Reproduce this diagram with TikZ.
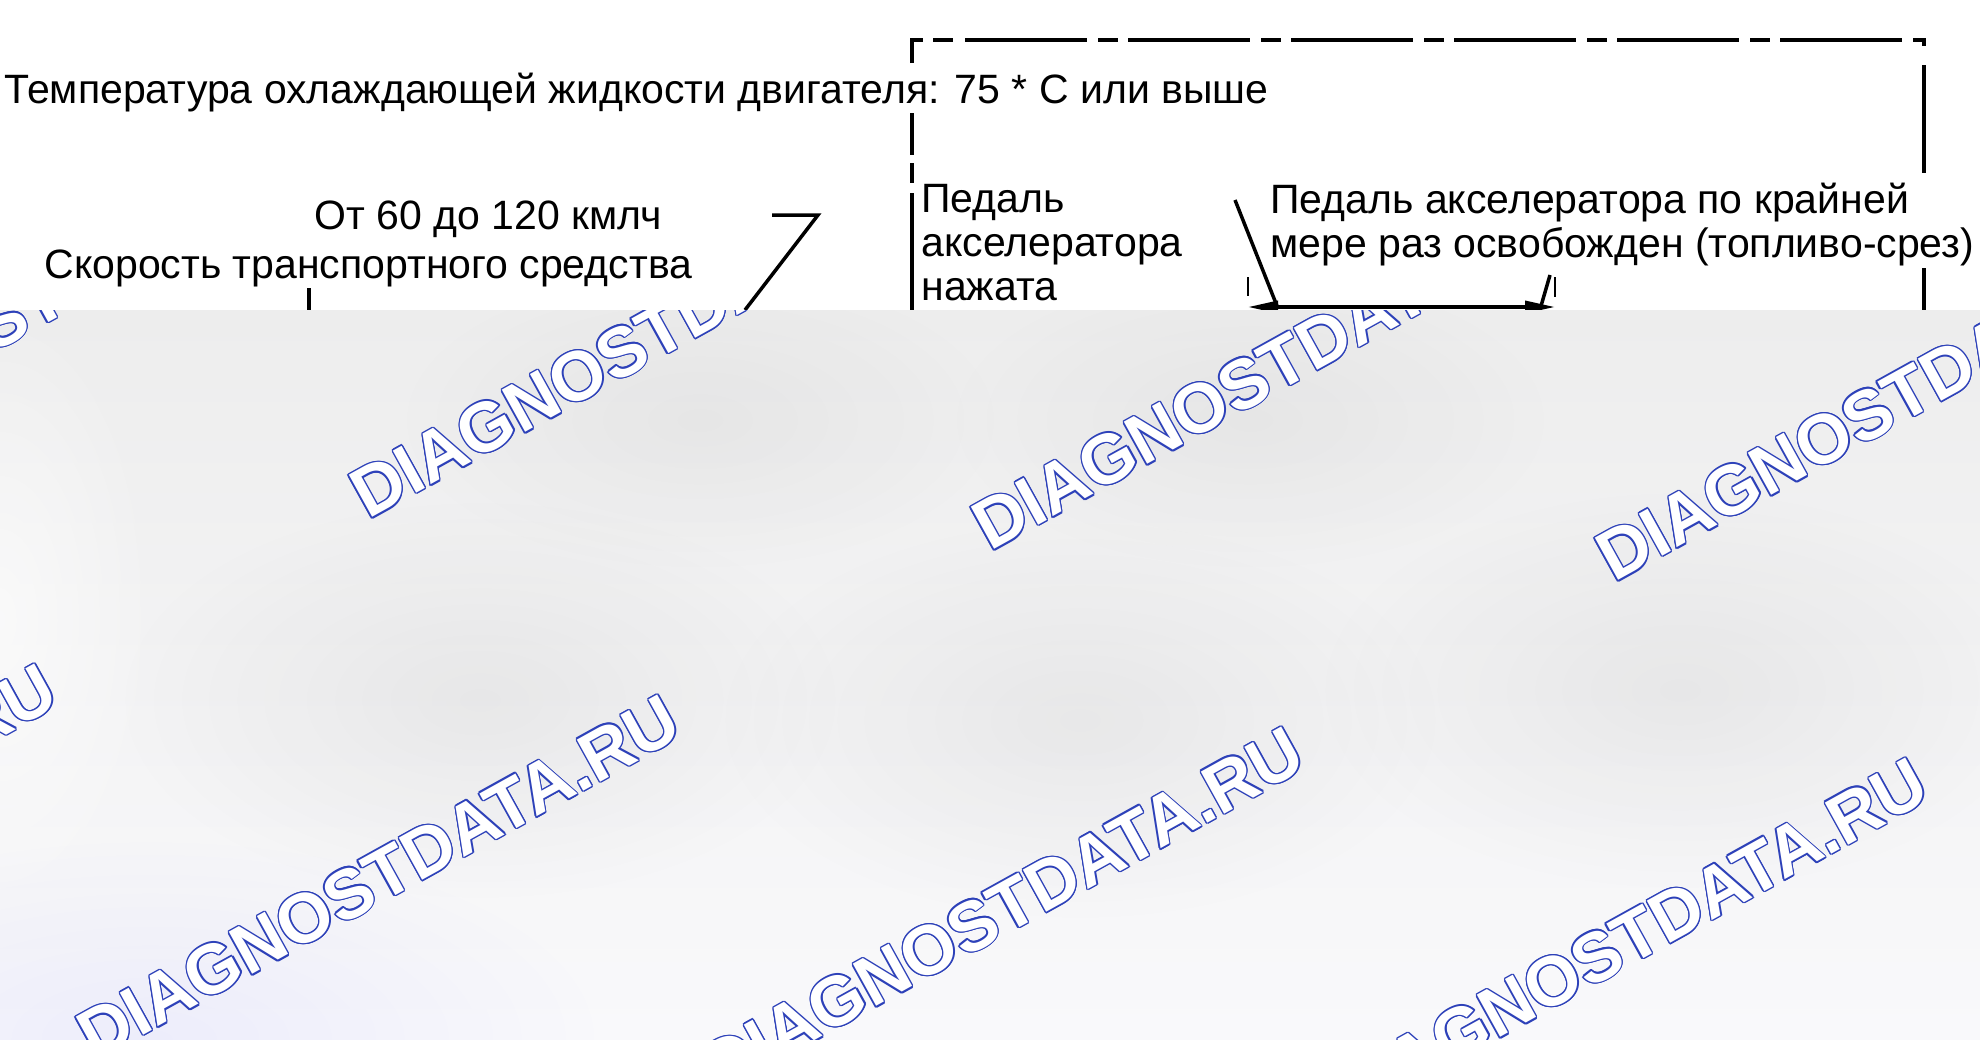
\documentclass[tikz,border=0pt]{standalone}
\usepackage{fontspec}
\setmainfont{Liberation Sans}
\usetikzlibrary{arrows.meta,fadings}
\tikzfading[name=blobfade, inner color=transparent!0, outer color=transparent!100]
\definecolor{wmblue}{RGB}{45,65,185}
\definecolor{bgtop}{RGB}{237,237,237}
\definecolor{bgmid}{RGB}{232,232,232}
\definecolor{bgbot}{RGB}{249,249,251}
\tikzset{
  lbl/.style={font=\fontsize{20.5pt}{22pt}\selectfont, inner sep=0pt, anchor=base west, align=left},
  frameline/.style={line width=1.75pt},
  ln/.style={line width=1.75pt},
  thinln/.style={line width=0.8pt},
  wm/.style={font=\fontsize{35pt}{36pt}\selectfont\bfseries, rotate=29, anchor=base west, inner sep=0pt},
}
\newcommand{\wmark}[3]{%
  \foreach \a in {0,30,...,330}{%
    \node[wm, text=wmblue, xshift={0.7pt*cos(\a)}, yshift={0.7pt*sin(\a)}] (#3c\a) at (#1,#2) {DIAGNOSTDATA.RU};
  }
  \node[wm, text=white] (#3) at (#1,#2) {DIAGNOSTDATA.RU};
}
\begin{document}
\begin{tikzpicture}[x=0.5pt,y=-0.5pt]
\useasboundingbox (0,0) rectangle (1980,1039);
\fill[white] (0,0) rectangle (1980,1039);

% labels (base anchor = baseline of the last line)
\node[lbl] (temp) at (4,103) {Температура охлаждающей жидкости двигателя: 75 * C или выше};
\node[lbl] (range) at (314,229) {От 60 до 120 кмлч};
\node[lbl] (speed) at (44,278) {Скорость транспортного средства};
\node[lbl] (pressed) at (921,300) {Педаль\\акселератора\\нажата};
\node[lbl] (released) at (1270,257) {Педаль акселератора по крайней\\мере раз освобожден (топливо-срез)};

% dash-dot frame
\draw[frameline] (912,63) -- (912,40) -- (923,40);
\draw[frameline] (933,40) -- (953,40);
\draw[frameline, dash pattern=on 61pt off 5.5pt on 10pt off 5pt] (965,40) -- (1902,40);
\draw[frameline] (1913,40) -- (1924,40) -- (1924,46);
\draw[frameline] (1924,65) -- (1924,173);
\draw[frameline] (1924,268) -- (1924,310);
\draw[frameline] (912,113) -- (912,155);
\draw[frameline] (912,163) -- (912,183);
\draw[frameline] (912,193) -- (912,310);

% speed marks
\coordinate (s1) at (772,215);
\coordinate (s2) at (818,215);
\coordinate (s3) at (745,310);
\draw[ln] (s1) -- (s2) -- (s3);
\coordinate (t1) at (309,288);
\coordinate (t2) at (309,310);
\draw[ln] (t1) -- (t2);

% dimension line with leaders
\coordinate (dl) at (1248,307);
\coordinate (dr) at (1555,307);
\draw[thinln] (1248,277) -- (1248,296);
\draw[thinln] (1555,277) -- (1555,297);
\draw[ln, {Triangle[length=15pt,width=6pt]}-{Triangle[length=15pt,width=6pt]}] (dl) -- (dr);
\coordinate (l1) at (1235,200);
\coordinate (l2) at (1277,306);
\coordinate (r1) at (1550,275);
\coordinate (r2) at (1541,306);
\draw[ln] (l1) -- (l2);
\draw[ln] (r1) -- (r2);

% blurred lower region
\fill[top color=bgtop, middle color=bgmid, bottom color=bgbot] (0,310) rectangle (1980,1039);
\begin{scope}
\clip (0,310) rectangle (1980,1039);
\fill[gray, opacity=0.10, path fading=blobfade] (480,700) ellipse [x radius=360, y radius=200];
\fill[gray, opacity=0.10, path fading=blobfade] (1080,720) ellipse [x radius=360, y radius=200];
\fill[gray, opacity=0.10, path fading=blobfade] (1680,690) ellipse [x radius=360, y radius=200];
\fill[gray, opacity=0.08, path fading=blobfade] (1250,420) ellipse [x radius=300, y radius=150];
\fill[gray, opacity=0.08, path fading=blobfade] (700,420) ellipse [x radius=300, y radius=150];
\fill[white, opacity=0.6, path fading=blobfade] (0,620) ellipse [x radius=160, y radius=320];
\fill[blue!40, opacity=0.12, path fading=blobfade] (150,1039) ellipse [x radius=450, y radius=200];
\wmark{-252}{489}{wmA}
\wmark{368}{520}{wmB}
\wmark{990}{552}{wmC}
\wmark{1614}{583}{wmD}
\wmark{-528}{1031}{wmE}
\wmark{95}{1062}{wmF}
\wmark{719}{1094}{wmG}
\wmark{1343}{1125}{wmH}
\end{scope}
\end{tikzpicture}
\end{document}
